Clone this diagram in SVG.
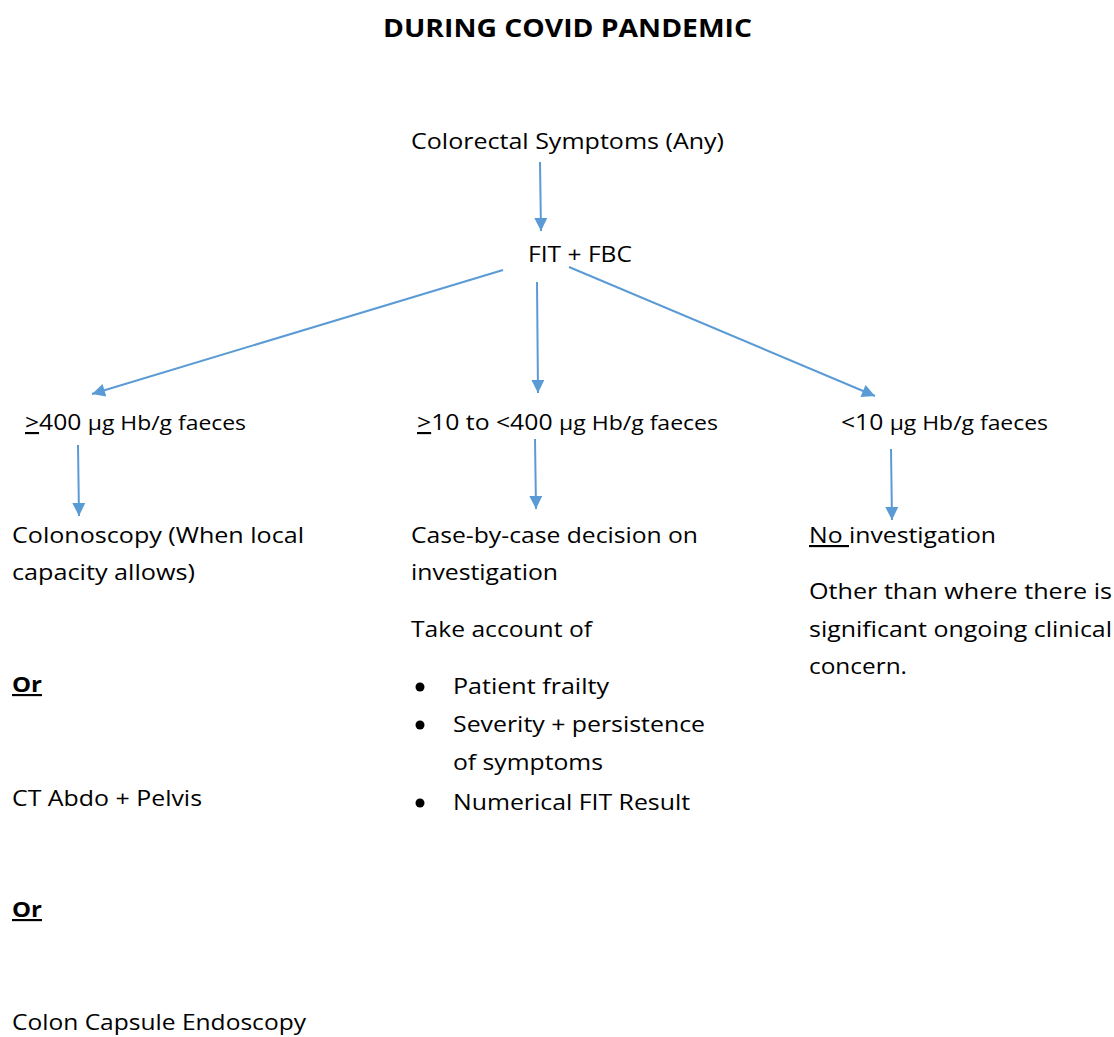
<svg xmlns="http://www.w3.org/2000/svg" width="1114" height="1037" viewBox="0 0 1114 1037">
<defs>
<marker id="ah" viewBox="0 0 10 10" refX="10" refY="5" markerUnits="userSpaceOnUse" markerWidth="15" markerHeight="13" orient="auto">
<path d="M0,0 L10,5 L0,10 z" fill="#5B9BD5"/>
</marker>
<style>
text{font-family:"Open Sans","Noto Sans","DejaVu Sans",sans-serif;font-size:21.5px;fill:#000}
.title{font-weight:bold;font-size:25px}
.small{font-size:20px}
.u{text-decoration:underline}
.b{font-weight:bold}
.bullet{fill:#000}
.conn line{stroke:#5B9BD5;stroke-width:2;marker-end:url(#ah)}
</style>
</defs>
<rect width="1114" height="1037" fill="#fff"/>
<text id="title" class="title" x="383" y="37" textLength="369" lengthAdjust="spacingAndGlyphs">DURING COVID PANDEMIC</text>
<g id="n-symptoms"><text x="411" y="149" textLength="313" lengthAdjust="spacingAndGlyphs">Colorectal Symptoms (Any)</text></g>
<g id="n-fit"><text x="528" y="262" textLength="104" lengthAdjust="spacingAndGlyphs">FIT + FBC</text></g>
<g id="n-high"><text x="25" y="430" textLength="221" lengthAdjust="spacingAndGlyphs"><tspan class="u">&gt;</tspan>400 <tspan class="small">µg Hb/g faeces</tspan></text></g>
<g id="n-mid"><text x="417" y="430" textLength="301" lengthAdjust="spacingAndGlyphs"><tspan class="u">&gt;</tspan>10 to &lt;400 <tspan class="small">µg Hb/g faeces</tspan></text></g>
<g id="n-low"><text x="841" y="430" textLength="207" lengthAdjust="spacingAndGlyphs">&lt;10 <tspan class="small">µg Hb/g faeces</tspan></text></g>
<g id="n-colonoscopy">
<text x="12" y="543" textLength="292" lengthAdjust="spacingAndGlyphs">Colonoscopy (When local</text>
<text x="12" y="580" textLength="183" lengthAdjust="spacingAndGlyphs">capacity allows)</text>
<text x="12" y="692" class="b u" textLength="30" lengthAdjust="spacingAndGlyphs">Or</text>
<text x="12" y="806" textLength="190" lengthAdjust="spacingAndGlyphs">CT Abdo + Pelvis</text>
<text x="12" y="917" class="b u" textLength="30" lengthAdjust="spacingAndGlyphs">Or</text>
<text x="12" y="1030" textLength="294" lengthAdjust="spacingAndGlyphs">Colon Capsule Endoscopy</text>
</g>
<g id="n-case">
<text x="411" y="543" textLength="287" lengthAdjust="spacingAndGlyphs">Case-by-case decision on</text>
<text x="411" y="580" textLength="147" lengthAdjust="spacingAndGlyphs">investigation</text>
<text x="411" y="637" textLength="181" lengthAdjust="spacingAndGlyphs">Take account of</text>
<circle class="bullet" cx="420" cy="687" r="4.5"/>
<text x="453" y="694" textLength="156" lengthAdjust="spacingAndGlyphs">Patient frailty</text>
<circle class="bullet" cx="420" cy="725" r="4.5"/>
<text x="453" y="732" textLength="252" lengthAdjust="spacingAndGlyphs">Severity + persistence</text>
<text x="453" y="770" textLength="150" lengthAdjust="spacingAndGlyphs">of symptoms</text>
<circle class="bullet" cx="420" cy="803" r="4.5"/>
<text x="453" y="810" textLength="237" lengthAdjust="spacingAndGlyphs">Numerical FIT Result</text>
</g>
<g id="n-none">
<text x="809" y="543" textLength="187" lengthAdjust="spacingAndGlyphs"><tspan class="u">No </tspan>investigation</text>
<text x="809" y="599" textLength="303" lengthAdjust="spacingAndGlyphs">Other than where there is</text>
<text x="809" y="637" textLength="303" lengthAdjust="spacingAndGlyphs">significant ongoing clinical</text>
<text x="809" y="674" textLength="98" lengthAdjust="spacingAndGlyphs">concern.</text>
</g>
<g id="connectors" class="conn">
<line x1="540" y1="162" x2="541" y2="231"/>
<line x1="503" y1="270" x2="92" y2="394"/>
<line x1="537" y1="282" x2="538" y2="393"/>
<line x1="569" y1="267" x2="875" y2="396"/>
<line x1="78" y1="445" x2="79" y2="516"/>
<line x1="535" y1="439" x2="536" y2="509"/>
<line x1="891" y1="449" x2="892" y2="520"/>
</g>
</svg>
